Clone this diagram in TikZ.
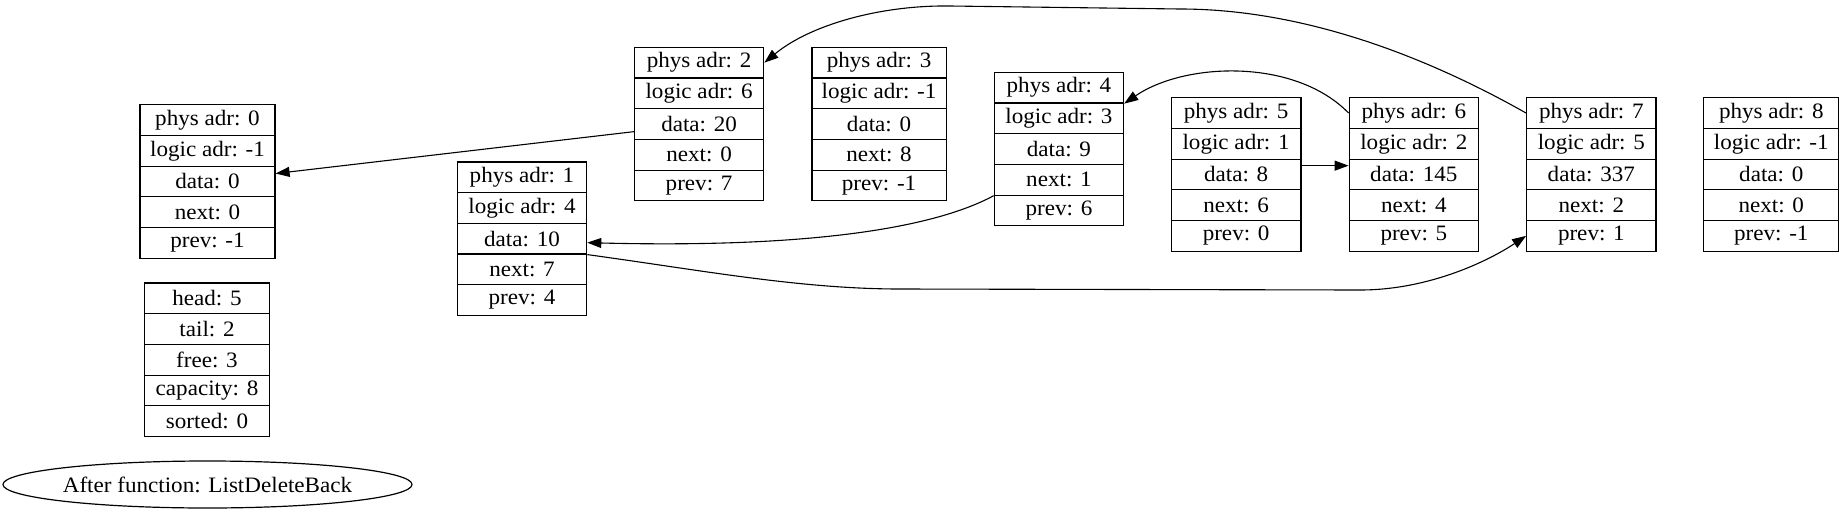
\documentclass[tikz,border=0pt]{standalone}
\usepackage{fontspec}
\setmainfont{Liberation Serif}[FakeStretch=1.05]
\usetikzlibrary{shapes.geometric,arrows.meta}
\tikzset{
  cell/.style={draw, line width=0.6pt, inner sep=0pt, minimum height=15.35pt, font=\fontsize{11}{13}\selectfont},
  arr/.style={line width=0.55pt, -{Triangle[length=7pt,width=5pt]}},
  titlebox/.style={draw, ellipse, line width=0.6pt, inner sep=0pt, minimum width=202.5pt, minimum height=23.5pt, font=\fontsize{11}{13}\selectfont}
}
\newcommand\recbox[5]{%
  \foreach \t [count=\i] in {#5}{%
    \node[cell, minimum width=#4*0.5pt] (#1-\i) at ({#2+#4/2},{#3+(\i-0.5)*30.7}) {\t};
  }}
\begin{document}
\begin{tikzpicture}[x=0.5pt,y=-0.5pt]
\useasboundingbox (0,0) rectangle (1844,515);
\recbox{n0}{140}{104.7}{135}{phys adr: 0,logic adr: -1,data: 0,next: 0,prev: -1}
\recbox{hd}{144.5}{283}{125}{head: 5,tail: 2,free: 3,capacity: 8,sorted: 0}
\recbox{n1}{457.3}{161.9}{129.4}{phys adr: 1,logic adr: 4,data: 10,next: 7,prev: 4}
\recbox{n2}{634.4}{47.3}{129.4}{phys adr: 2,logic adr: 6,data: 20,next: 0,prev: 7}
\recbox{n3}{811.9}{47.3}{134.3}{phys adr: 3,logic adr: -1,data: 0,next: 8,prev: -1}
\recbox{n4}{994.3}{72.3}{129.3}{phys adr: 4,logic adr: 3,data: 9,next: 1,prev: 6}
\recbox{n5}{1171.2}{97.7}{129.8}{phys adr: 5,logic adr: 1,data: 8,next: 6,prev: 0}
\recbox{n6}{1349.2}{97.7}{129.3}{phys adr: 6,logic adr: 2,data: 145,next: 4,prev: 5}
\recbox{n7}{1526.7}{97.7}{129.3}{phys adr: 7,logic adr: 5,data: 337,next: 2,prev: 1}
\recbox{n8}{1703.8}{97.7}{135}{phys adr: 8,logic adr: -1,data: 0,next: 0,prev: -1}
\node[titlebox] (title) at (207.5,484.5) {After function: ListDeleteBack};
\draw[arr] (n2-3) -- (n0-3);
\draw[arr] (n7-1.west) .. controls (1450,70) and (1320,9) .. (1180,9) -- (950,6) .. controls (880,5) and (810,25) .. (n2-1.east);
\draw[arr] (n6-1.west) .. controls (1295,58) and (1185,62) .. (n4-1.south east);
\draw[arr] (n4-4.south west) .. controls (930,230) and (800,248) .. ([yshift=-2pt]n1-3.east);
\draw[arr] (n1-3.south east) .. controls (700,270) and (800,289) .. (900,289) -- (1360,290) .. controls (1430,290) and (1490,260) .. (n7-5.west);
\draw[arr] ([yshift=4.4pt]n5-3.east) -- ([yshift=4.4pt]n6-3.west);
\end{tikzpicture}
\end{document}
